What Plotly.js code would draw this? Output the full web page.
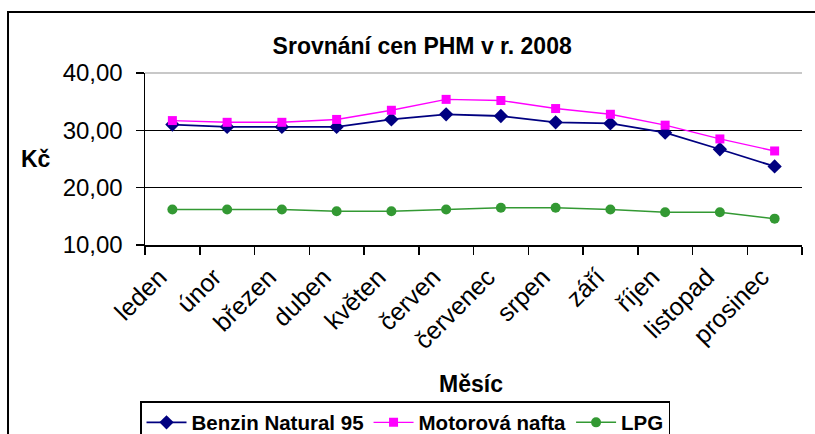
<!DOCTYPE html>
<html>
<head>
<meta charset="utf-8">
<script src="https://cdn.plot.ly/plotly-3.0.1.min.js"></script>
<style>
html,body{margin:0;padding:0;background:#fff;}
#chart{width:815px;height:434px;}
</style>
</head>
<body>
<div id="chart"></div>
<script>
const months = ["leden","únor","březen","duben","květen","červen","červenec","srpen","září","říjen","listopad","prosinec"];
const benzin = [31.0, 30.6, 30.6, 30.6, 31.9, 32.8, 32.5, 31.4, 31.2, 29.6, 26.7, 23.7];
const nafta  = [31.7, 31.4, 31.4, 31.9, 33.5, 35.4, 35.2, 33.8, 32.8, 30.9, 28.5, 26.4];
const lpg    = [16.2, 16.2, 16.2, 15.9, 15.9, 16.2, 16.5, 16.5, 16.2, 15.7, 15.7, 14.6];
const seriesNames = ["Benzin Natural 95", "Motorová nafta", "LPG"];
const yTicks = [10, 20, 30, 40];
const yTickText = ["10,00", "20,00", "30,00", "40,00"];

const font = "Liberation Sans, Arial, sans-serif";

const traces = [
  {x: months, y: benzin, name: seriesNames[0], type: "scatter", mode: "lines+markers",
   line: {color: "#000080", width: 1.8}, marker: {symbol: "diamond", size: 11, color: "#000080"}},
  {x: months, y: nafta, name: seriesNames[1], type: "scatter", mode: "lines+markers",
   line: {color: "#FF00FF", width: 1.4}, marker: {symbol: "square", size: 9, color: "#FF00FF"}},
  {x: months, y: lpg, name: seriesNames[2], type: "scatter", mode: "lines+markers",
   line: {color: "#339933", width: 1.5}, marker: {symbol: "circle", size: 10, color: "#339933"}}
];

// plot area: x 145..802 px, y 73..245 px
const layout = {
  width: 815, height: 434,
  paper_bgcolor: "#fff", plot_bgcolor: "#fff",
  margin: {l: 145, r: 13, t: 73, b: 189, autoexpand: false},
  showlegend: true,
  title: {text: "<b>Srovnání cen PHM v r. 2008</b>", x: 0.518, xanchor: "center", y: 0.895, yanchor: "middle",
          font: {family: font, size: 23, color: "#000"}},
  xaxis: {
    type: "category", range: [-0.5, 11.5], tickson: "boundaries", automargin: false,
    ticks: "outside", ticklen: 8, tickcolor: "#000", tickwidth: 1.5,
    showline: true, linecolor: "#000", linewidth: 1.5,
    showgrid: false, tickangle: -45, ticklabelshift: -13, ticklabelstandoff: 6,
    tickfont: {family: font, size: 25, color: "#000"}
  },
  yaxis: {
    range: [10, 40], tickvals: yTicks, ticktext: yTickText, automargin: false,
    ticks: "outside", ticklen: 8, tickcolor: "#000", tickwidth: 1.5,
    showline: true, linecolor: "#000", linewidth: 1.5, ticklabelstandoff: 8,
    showgrid: true, gridcolor: "#000", gridwidth: 1.5, zeroline: false,
    tickfont: {family: font, size: 24, color: "#000"}
  },
  legend: {
    orientation: "h", xref: "container", yref: "container",
    x: 0.1718, xanchor: "left", y: 0.076, yanchor: "top",
    bordercolor: "#000", borderwidth: 1.5, bgcolor: "#fff",
    font: {family: font, size: 20.5, color: "#000", weight: "bold"},
    itemwidth: 40, tracegroupgap: 0
  },
  annotations: [
    {text: "<b>Kč</b>", xref: "paper", yref: "paper", x: -0.166, y: 0.5, xanchor: "center", yanchor: "middle",
     showarrow: false, font: {family: font, size: 23, color: "#000"}},
    {text: "<b>Měsíc</b>", xref: "paper", yref: "paper", x: 0.496, y: -0.808, xanchor: "center", yanchor: "middle",
     showarrow: false, font: {family: font, size: 23, color: "#000"}}
  ],
  shapes: [
    {type: "line", xref: "x domain", yref: "y domain", x0: 0, x1: 1, y0: 1, y1: 1,
     line: {color: "#c8c8c8", width: 2}, layer: "above"},
    {type: "rect", xref: "paper", yref: "paper", x0: -0.2085, x1: 1.05, y0: 1.3547, y1: -1.3,
     line: {color: "#000", width: 2}, fillcolor: "rgba(0,0,0,0)", layer: "below"}
  ]
};

Plotly.newPlot("chart", traces, layout, {displayModeBar: false, staticPlot: true});
</script>
</body>
</html>
